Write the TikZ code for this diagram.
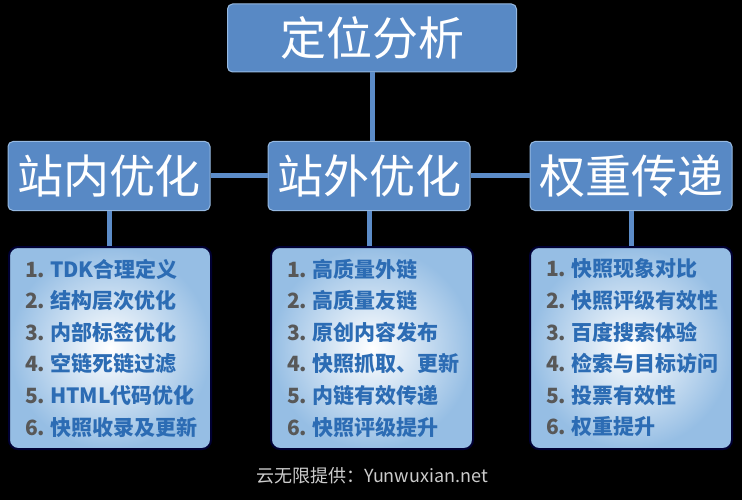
\documentclass[tikz,border=0pt]{standalone}
\usepackage{fontspec}
\setmainfont{Noto Sans CJK SC}
\usetikzlibrary{positioning}
\definecolor{kastenblau}{RGB}{88,137,197}
\definecolor{randblau}{RGB}{150,185,225}
\definecolor{linienblau}{RGB}{92,140,200}
\definecolor{listenblau}{RGB}{150,190,228}
\definecolor{schriftblau}{RGB}{44,108,180}
\definecolor{nummergrau}{RGB}{88,88,88}
\tikzset{
  kopf/.style={draw=randblau, line width=1pt, fill=kastenblau, rounded corners=5pt, text=white,
    minimum width=202pt, minimum height=69pt, inner sep=0pt, font=\fontsize{46}{50}\selectfont},
  liste/.style={draw=black!80!blue, line width=2pt, rounded corners=9pt, inner color=white, outer color=listenblau,
    minimum height=202pt, text width=182pt, inner xsep=10pt, align=left, font=\bfseries\fontsize{21}{31.6}\selectfont},
  linie/.style={linienblau, line width=5pt}
}
\newcommand{\nr}[1]{\hspace*{6pt}\textcolor{nummergrau}{#1.}\nobreak\hspace{5pt}\ignorespaces}

\begin{document}
\begin{tikzpicture}[x=1pt, y=-1pt] % Pixelmass, y nach unten

\useasboundingbox[fill=black] (0,0) rectangle (742,500);

% Kopfkaesten
\node[kopf, minimum width=289pt, minimum height=68pt] (analyse) at (372,38) {定位分析};
\node[kopf] (innen) at (109,176) {站内优化};
\node[kopf] (aussen) at (369,176) {站外优化};
\node[kopf] (gewicht) at (631,176) {权重传递};

% Listen
\node[liste] (linnen) at (110,348) {\textcolor{schriftblau}{%
  \nr1 TDK合理定义\\ \nr2 结构层次优化\\ \nr3 内部标签优化\\ \nr4 空链死链过滤\\ \nr5 HTML代码优化\\ \nr6 快照收录及更新}};
\node[liste] (laussen) at (372,348) {\textcolor{schriftblau}{%
  \nr1 高质量外链\\ \nr2 高质量友链\\ \nr3 原创内容发布\\ \nr4 快照抓取、更新\\ \nr5 内链有效传递\\ \nr6 快照评级提升}};
\node[liste] (lgewicht) at (631,348) {\textcolor{schriftblau}{%
  \nr1 快照现象对比\\ \nr2 快照评级有效性\\ \nr3 百度搜索体验\\ \nr4 检索与目标访问\\ \nr5 投票有效性\\ \nr6 权重提升}};

% Verbindungen
\draw[linie] (analyse.south) -- (analyse.south |- aussen.north);
\draw[linie] (innen) -- (aussen);
\draw[linie] (aussen) -- (gewicht);
\draw[linie] (innen.south) -- (innen.south |- linnen.north);
\draw[linie] (aussen.south) -- (aussen.south |- laussen.north);
\draw[linie] (gewicht.south) -- (gewicht.south |- lgewicht.north);

% Quelle
\node[text=black!20, font=\fontsize{18}{20}\selectfont] (quelle) at (372,476) {云无限提供：Yunwuxian.net};

\end{tikzpicture}
\end{document}
